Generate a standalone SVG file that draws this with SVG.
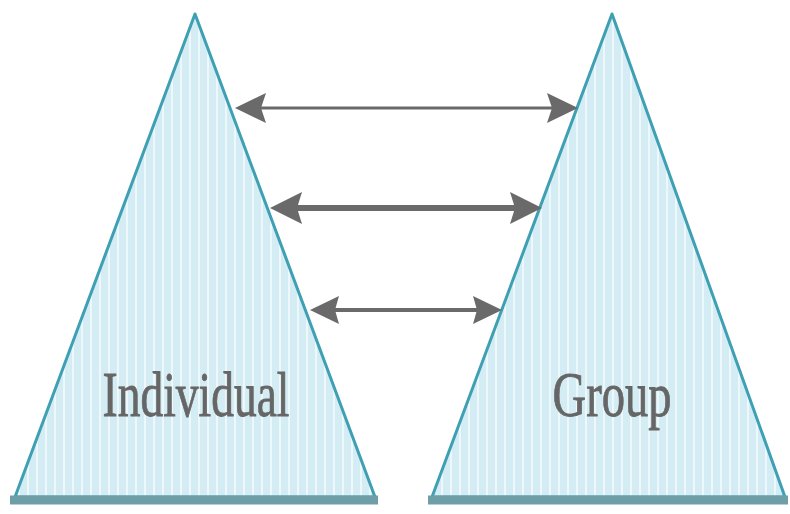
<svg xmlns="http://www.w3.org/2000/svg" width="790" height="514" viewBox="0 0 790 514">
<style>
.tri{fill:url(#stripes);stroke:#3f9fb3;stroke-width:3;stroke-linejoin:round}
.base{stroke:#6e9fa8;stroke-width:9}
.shaft{stroke:#6a6a6a;fill:none}
.head{fill:#6a6a6a}
.lbl{font-family:"Liberation Serif","Times New Roman",serif;font-size:64px;fill:#666666;stroke:#666666;stroke-width:0.8;text-anchor:middle}
</style>
<defs>
<pattern id="stripes" patternUnits="userSpaceOnUse" width="9" height="10">
<rect width="9" height="10" fill="#d4edf5"/>
<rect x="0" width="2" height="10" fill="#eef8fb"/>
</pattern>
</defs>
<rect width="790" height="514" fill="#ffffff"/>
<g id="individual">
<polygon class="tri" points="195,14 15,497 375,497"/>
<line class="base" x1="10" y1="500" x2="378" y2="500"/>
<text class="lbl" x="196" y="416" textLength="187" lengthAdjust="spacingAndGlyphs">Individual</text>
</g>
<g id="group">
<polygon class="tri" points="612,14 432,497 785,497"/>
<line class="base" x1="428" y1="500" x2="788" y2="500"/>
<text class="lbl" x="612" y="416" textLength="119" lengthAdjust="spacingAndGlyphs">Group</text>
</g>
<g id="connectors">
<line class="shaft" stroke-width="3" x1="255" y1="108" x2="558" y2="108"/>
<polygon class="head" points="235,108 266,93 261,108 266,123"/>
<polygon class="head" points="578,108 547,93 552,108 547,123"/>
<line class="shaft" stroke-width="6" x1="290" y1="208" x2="522" y2="208"/>
<polygon class="head" points="270,208 302,192 297,208 302,224"/>
<polygon class="head" points="542,208 510,192 515,208 510,224"/>
<line class="shaft" stroke-width="4" x1="328" y1="310" x2="484" y2="310"/>
<polygon class="head" points="310,310 339,296 335,310 339,324"/>
<polygon class="head" points="502,310 473,296 477,310 473,324"/>
</g>
</svg>
